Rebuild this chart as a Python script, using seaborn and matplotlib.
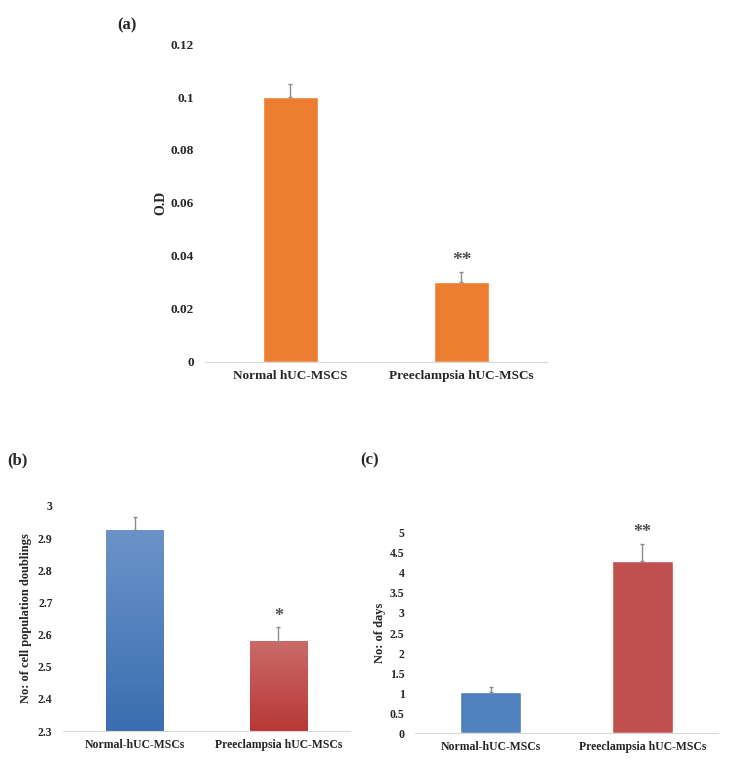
import numpy as np
import pandas as pd
import seaborn as sns
import matplotlib.pyplot as plt
from matplotlib.colors import LinearSegmentedColormap

sns.set_style("white")
plt.rcParams['font.family'] = ['Liberation Serif', 'DejaVu Serif']
plt.rcParams['font.weight'] = 'bold'

# panel (a)
groups_a = ["Normal hUC-MSCS", "Preeclampsia hUC-MSCs"]
od = [0.100, 0.030]
od_err = [0.005, 0.004]
stars_a = ["", "**"]

# panel (b)
groups_bc = ["Normal-hUC-MSCs", "Preeclampsia hUC-MSCs"]
doublings = [2.925, 2.577]
doublings_err = [0.040, 0.045]
stars_b = ["", "*"]

# panel (c)
days = [1.03, 4.30]
days_err = [0.12, 0.42]
stars_c = ["", "**"]

fig = plt.figure(figsize=(7.5, 7.72), dpi=100)
ax_a = fig.add_axes([0.2733, 0.5311, 0.456, 0.4119])
ax_b = fig.add_axes([0.084, 0.0531, 0.3827, 0.2915])
ax_c = fig.add_axes([0.5533, 0.0505, 0.404, 0.2591])


def style(ax, fs, ypad):
    for s in ['top', 'right', 'left']:
        ax.spines[s].set_visible(False)
    ax.spines['bottom'].set_color('#d9d9d9')
    ax.tick_params(axis='x', length=0, labelsize=fs, pad=6)
    ax.tick_params(axis='y', length=0, labelsize=fs, pad=ypad)
    for t in ax.get_xticklabels() + ax.get_yticklabels():
        t.set_fontweight('bold')
    ax.set_xlim(-0.5, 1.5)
    ax.set_xlabel("")


def add_err(ax, vals, errs, stars, fs):
    x = np.arange(len(vals))
    ax.errorbar(x, vals, yerr=[np.zeros(len(errs)), errs], fmt='none',
                ecolor='#8c8c8c', elinewidth=1, capsize=1.5, capthick=1)
    for i, s in enumerate(stars):
        if s:
            ax.annotate(s, (x[i], vals[i] + errs[i]), xytext=(0, 2),
                        textcoords='offset points', ha='center', va='bottom',
                        fontsize=fs, color='#505050')


# (a)
df_a = pd.DataFrame({"group": groups_a, "od": od})
sns.barplot(data=df_a, x="group", y="od", color="#ED7D31", saturation=1,
            width=0.32, ax=ax_a)
add_err(ax_a, od, od_err, stars_a, 14)
ax_a.set_ylim(0, 0.12)
ax_a.set_yticks([0, 0.02, 0.04, 0.06, 0.08, 0.1, 0.12])
ax_a.set_yticklabels(["0", "0.02", "0.04", "0.06", "0.08", "0.1", "0.12"])
ax_a.set_ylabel("O.D", fontsize=10, fontweight='bold', labelpad=2.5)
style(ax_a, 9.5, 8)

# (b) with gradient fills
df_b = pd.DataFrame({"group": groups_bc, "val": doublings})
sns.barplot(data=df_b, x="group", y="val", color="#4F81BD", saturation=1,
            width=0.4, ax=ax_b)
ax_b.set_ylim(2.3, 3.0)
grads = [LinearSegmentedColormap.from_list("bl", ["#3a6eb0", "#6b93c9"]),
         LinearSegmentedColormap.from_list("rd", ["#b83837", "#ca6b68"])]
for p, cm in zip(ax_b.patches, grads):
    x0, y0 = p.get_x(), 2.3
    x1, y1 = x0 + p.get_width(), p.get_height()
    g = np.linspace(0, 1, 256).reshape(-1, 1)
    ax_b.imshow(g, cmap=cm, origin='lower', aspect='auto',
                extent=[x0, x1, y0, y1], zorder=p.get_zorder())
    p.set_visible(False)
ax_b.set_xlim(-0.5, 1.5)
ax_b.set_ylim(2.3, 3.0)
add_err(ax_b, doublings, doublings_err, stars_b, 13)
ax_b.set_yticks([2.3, 2.4, 2.5, 2.6, 2.7, 2.8, 2.9, 3.0])
ax_b.set_yticklabels(["2.3", "2.4", "2.5", "2.6", "2.7", "2.8", "2.9", "3"])
ax_b.set_ylabel("No: of cell population doublings", fontsize=9,
                fontweight='bold', labelpad=4.5)
style(ax_b, 8.5, 7.5)

# (c)
df_c = pd.DataFrame({"group": groups_bc, "val": days})
sns.barplot(data=df_c, x="group", y="val", hue="group",
            palette=["#4F81BD", "#C0504D"], saturation=1, width=0.4,
            legend=False, ax=ax_c)
add_err(ax_c, days, days_err, stars_c, 13)
ax_c.set_ylim(0, 5)
ax_c.set_yticks(np.arange(0, 5.01, 0.5))
ax_c.set_yticklabels(["0", "0.5", "1", "1.5", "2", "2.5", "3", "3.5", "4", "4.5", "5"])
ax_c.set_ylabel("No: of days", fontsize=9, fontweight='bold', labelpad=3)
style(ax_c, 8.5, 7.5)

fig.text(117 / 750, 1 - 25 / 772, "(a)", fontsize=12, fontweight='bold', va='center')
fig.text(7 / 750, 1 - 460 / 772, "(b)", fontsize=12, fontweight='bold', va='center')
fig.text(360 / 750, 1 - 460 / 772, "(c)", fontsize=12, fontweight='bold', va='center')

fig.savefig("out.png", dpi=100)
